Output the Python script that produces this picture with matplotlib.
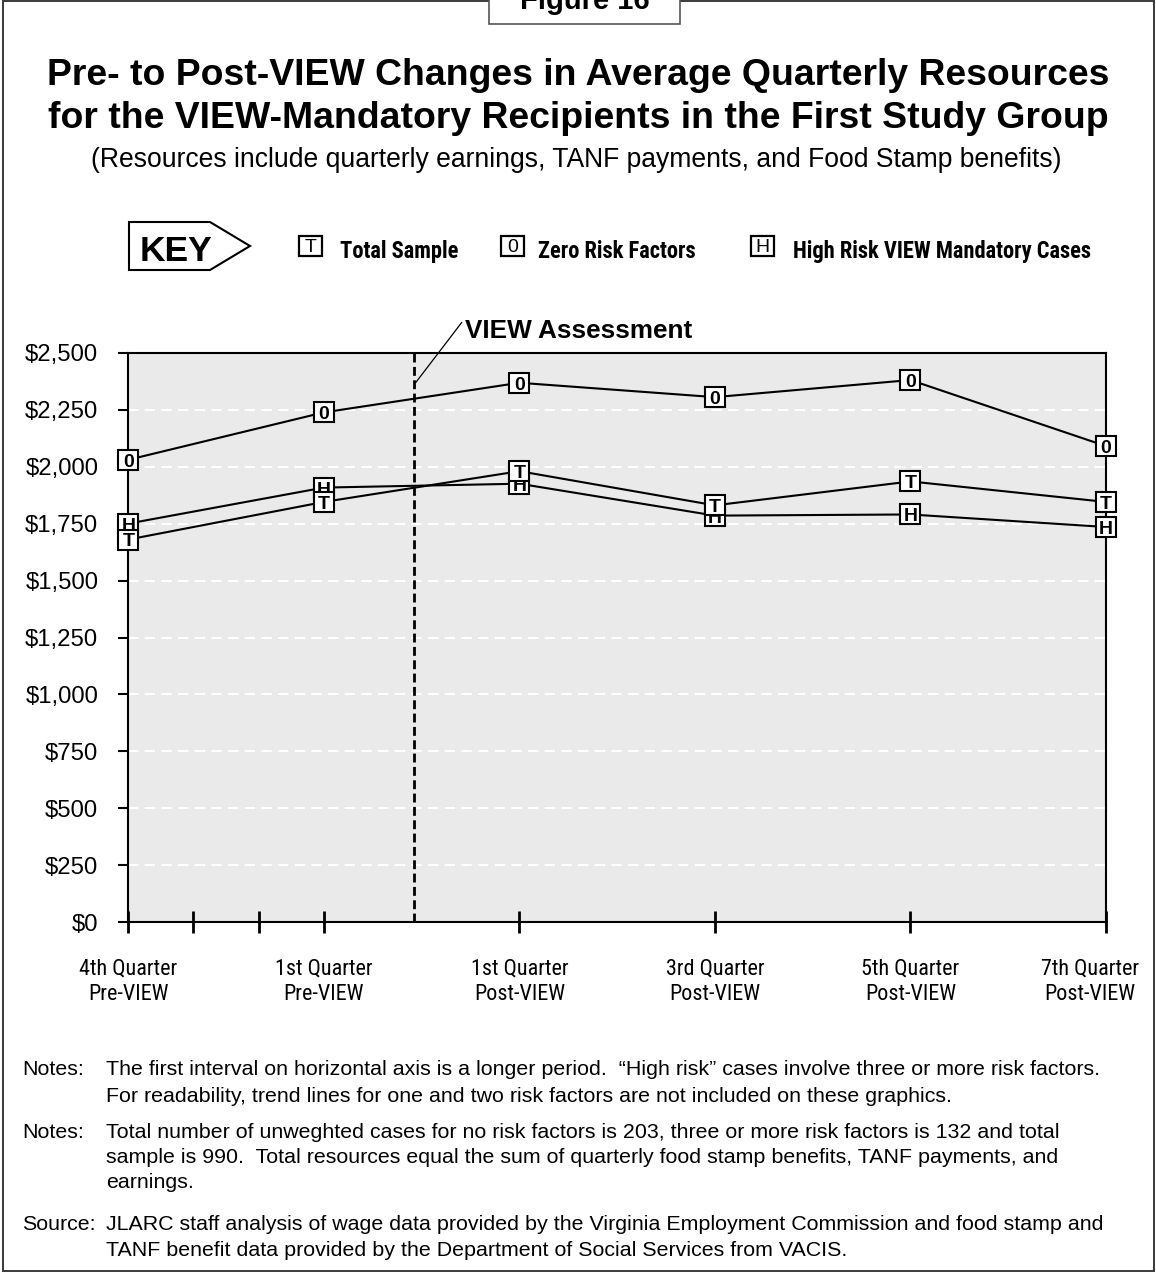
import os
import numpy as np
import matplotlib
matplotlib.use("Agg")
import matplotlib.pyplot as plt
from matplotlib import font_manager
from matplotlib.font_manager import FontProperties
from matplotlib.patches import Rectangle, Polygon
from matplotlib.ticker import StrMethodFormatter
from matplotlib.transforms import ScaledTranslation

### -----------------------------------------

# Trimestres do eixo x
quarters = ["4th Quarter\nPre-VIEW", "1st Quarter\nPre-VIEW", "1st Quarter\nPost-VIEW",
            "3rd Quarter\nPost-VIEW", "5th Quarter\nPost-VIEW", "7th Quarter\nPost-VIEW"]

# Recursos medios trimestrais ($)
total_sample = [1680, 1845, 1980, 1830, 1935, 1845]
zero_risk = [2030, 2238, 2368, 2305, 2380, 2090]
high_risk = [1750, 1908, 1925, 1785, 1790, 1735]

# Letra, serie e texto da chave (a T debuxase por riba)
series = [("0", zero_risk, "Zero Risk Factors"),
          ("H", high_risk, "High Risk VIEW Mandatory Cases"),
          ("T", total_sample, "Total Sample")]

### -----------------------------------------

plt.rcParams["font.family"] = ["Liberation Sans", "DejaVu Sans"]

# Busca unha letra estreita (Narrow / Condensed) entre as instaladas
def fonte_estreita(bold):
    preferencia = ["Liberation Sans Narrow", "Arial Narrow", "Roboto", "Noto Sans",
                   "Open Sans", "Inter", "Lato", "DejaVu Sans"]
    alvo = 700 if bold else 400
    mellor, clave_mellor = None, None
    for f in font_manager.fontManager.ttflist:
        base = os.path.basename(f.fname)
        estreita = ("Narrow" in f.name or "Condensed" in f.name or "Condensed" in base
                    or "Narrow" in base or f.stretch in ("condensed", "semi-condensed"))
        if not estreita or f.style != "normal":
            continue
        if any(k in f.name + base for k in ("Mono", "Serif", "Extra", "Ultra", "CJK")):
            continue
        if f.stretch in ("extra-condensed", "ultra-condensed"):
            continue
        w = f.weight if isinstance(f.weight, int) else font_manager.weight_dict.get(f.weight, 400)
        pref = next((i for i, p in enumerate(preferencia) if f.name.startswith(p)), 99)
        clave = (abs(w - alvo), pref)
        if clave_mellor is None or clave < clave_mellor:
            mellor, clave_mellor = f, clave
    if mellor is None:
        return FontProperties(family="Liberation Sans", weight="bold" if bold else "normal")
    return FontProperties(fname=mellor.fname)

W, H = 1156, 1273
fig = plt.figure(figsize=(W / 100, H / 100), dpi=100)
renderer = fig.canvas.get_renderer()

# tamaño de letra para que un texto ocupe un ancho dado (pixeles)
def tamano_para(texto, fp, ancho):
    fp = fp.copy()
    fp.set_size(20)
    t = fig.text(0, 0, texto, fontproperties=fp)
    w = t.get_window_extent(renderer).width
    t.remove()
    return 20 * ancho / w

narrow_b = fonte_estreita(True)
narrow_r = fonte_estreita(False)
size_key = tamano_para("Total Sample", narrow_b, 119)
size_xlab = tamano_para("4th Quarter", narrow_r, 98)

# coordenadas en pixeles (desde arriba á esquerda) -> fraccion da figura
def fx(x):
    return x / W

def fy(y):
    return 1 - y / H

def ftext(x, y, s, **kw):
    fig.text(fx(x), fy(y), s, va="baseline", **kw)

# Marco exterior e pestana "Figure 16"
fig.add_artist(Rectangle((fx(3), fy(1271)), fx(1154) - fx(3), fy(1) - fy(1271),
                         transform=fig.transFigure, fill=False, ec="#3a3a3a", lw=1.4))
fig.add_artist(Rectangle((fx(489), fy(24)), fx(680) - fx(489), fy(-6) - fy(24),
                         transform=fig.transFigure, fc="white", ec="#555555", lw=1.2, zorder=3))
ftext(584.5, 9, "Figure 16", ha="center", fontsize=21, fontweight="bold", zorder=4)

# Titulo
ftext(578.5, 85, "Pre- to Post-VIEW Changes in Average Quarterly Resources",
      ha="center", fontsize=26.9, fontweight="bold")
ftext(578, 128, "for the VIEW-Mandatory Recipients in the First Study Group",
      ha="center", fontsize=26.9, fontweight="bold")
ftext(576.5, 167, "(Resources include quarterly earnings, TANF payments, and Food Stamp benefits)",
      ha="center", fontsize=19.1)

# Chave
key_pts = [(129, 222), (210, 222), (250, 246), (210, 270), (129, 270)]
fig.add_artist(Polygon([(fx(a), fy(b)) for a, b in key_pts], closed=True,
                       transform=fig.transFigure, fc="white", ec="black", lw=1.5))
ftext(140, 261.5, "KEY", fontsize=25.5, fontweight="bold")

fp_key = narrow_b.copy()
fp_key.set_size(size_key)
key_pos = {"T": (299, 340), "0": (501, 538), "H": (751, 793)}
for letra, _, nome in series:
    bx, tx = key_pos[letra]
    fig.add_artist(Rectangle((fx(bx), fy(256)), fx(23) - fx(0), fy(236) - fy(256),
                             transform=fig.transFigure, fc="white", ec="black", lw=1.6))
    ftext(bx + 11.5, 252.5, letra, ha="center", fontsize=14)
    ftext(tx, 258, nome, fontproperties=fp_key)

### -----------------------------------------

ax = fig.add_axes([fx(128.3), fy(922.3), fx(1106) - fx(128.3), fy(352.7) - fy(922.3)])
ax.set_facecolor("#eaeaea")
ax.set_xlim(0, 5)
ax.set_ylim(0, 2500)

x = np.arange(len(quarters))

# Grella branca discontinua
ax.set_yticks(np.arange(0, 2501, 250))
ax.grid(axis="y", color="white", lw=1.5, linestyle=(0, (5, 3)))
ax.set_axisbelow(True)

# Liña da avaliacion VIEW
view_x = 1.46
ax.axvline(view_x, color="black", lw=2, linestyle=(0, (3.2, 1.6)), zorder=2)
ax.annotate("VIEW Assessment", xy=(view_x + 0.01, 2369), xytext=(1.72, 2566),
            va="baseline", fontsize=18.8, fontweight="bold", annotation_clip=False,
            arrowprops=dict(arrowstyle="-", relpos=(0, 1), shrinkA=0, shrinkB=0, lw=0.9))

# Series con marcadores cadrados e letra
for i, (letra, valores, _) in enumerate(series):
    ax.plot(x, valores, color="black", lw=1.5, zorder=3, clip_on=False)
    z = 5 + i
    ax.plot(x, valores, ls="none", marker="s", ms=15, mfc="white", mec="black",
            mew=1.5, zorder=z, clip_on=False)
    for xi, v in zip(x, valores):
        ax.annotate(letra, (xi, v), xytext=(0, -5), textcoords="offset points",
                    ha="center", va="baseline", fontsize=14, fontweight="bold",
                    zorder=z + 0.5, annotation_clip=False)

# Eixos
for s in ax.spines.values():
    s.set_linewidth(1.5)
fp_x = narrow_r.copy()
fp_x.set_size(size_xlab)
ax.set_xticks(x, quarters)
ax.set_xticks([1 / 3, 2 / 3], minor=True)
ax.tick_params(axis="x", which="both", direction="inout", length=15.8, width=2, pad=18)
ax.tick_params(axis="y", direction="out", length=7.2, width=1.5, pad=14.4, labelsize=17.2)
ax.yaxis.set_major_formatter(StrMethodFormatter("${x:,.0f}"))
for lbl in ax.get_xticklabels():
    lbl.set_fontproperties(fp_x)
    lbl.set_linespacing(1.3)
# a ultima etiqueta vai algo desprazada á esquerda para non saír do marco
ultima = ax.xaxis.get_major_ticks()[-1].label1
ultima.set_transform(ultima.get_transform() + ScaledTranslation(-0.16, 0, fig.dpi_scale_trans))

### -----------------------------------------

# Notas e fonte
notas = [
    (1075, "Notes:", "The first interval on horizontal axis is a longer period.  \u201cHigh risk\u201d cases involve three or more risk factors."),
    (1102, "", "For readability, trend lines for one and two risk factors are not included on these graphics."),
    (1138, "Notes:", "Total number of unweghted cases for no risk factors is 203, three or more risk factors is 132 and total"),
    (1163, "", "sample is 990.  Total resources equal the sum of quarterly food stamp benefits, TANF payments, and"),
    (1188, "", "earnings."),
    (1230, "Source:", "JLARC staff analysis of wage data provided by the Virginia Employment Commission and food stamp and"),
    (1256, "", "TANF benefit data provided by the Department of Social Services from VACIS."),
]
for y, cab, texto in notas:
    if cab:
        ftext(22, y, cab, fontsize=15.4)
    ftext(106, y, texto, fontsize=15.4)

fig.savefig("out.png", dpi=100)
